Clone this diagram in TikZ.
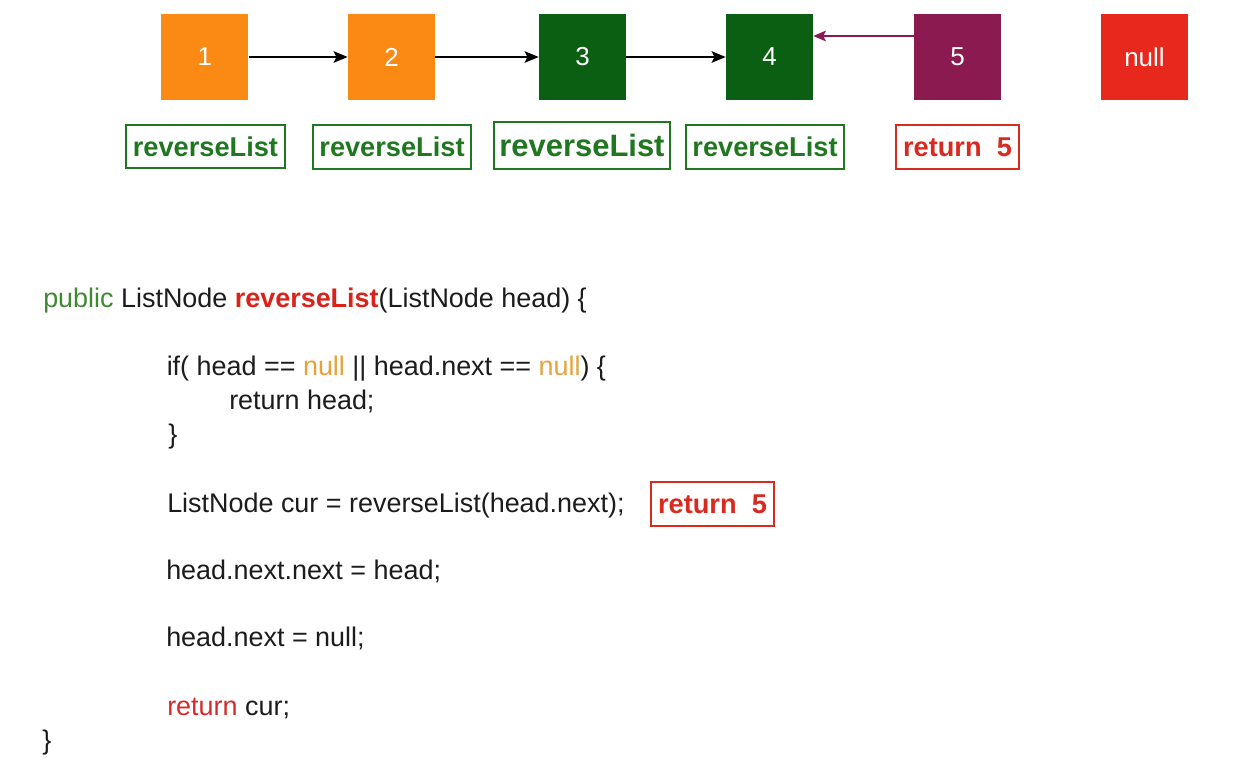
\documentclass[tikz,border=0pt]{standalone}
\usepackage{fontspec}
\setmainfont{Liberation Sans}
\usetikzlibrary{arrows.meta}

\definecolor{nodeorange}{HTML}{FA8A14}
\definecolor{nodegreen}{HTML}{0B5F12}
\definecolor{nodepurple}{HTML}{8B1A50}
\definecolor{nodered}{HTML}{E8281C}
\definecolor{callgreen}{HTML}{1F781F}
\definecolor{retred}{HTML}{D92A20}
\definecolor{codeblack}{HTML}{1C1C1C}
\definecolor{kwgreen}{HTML}{3E8A30}
\definecolor{fnred}{HTML}{D8231B}
\definecolor{nullorange}{HTML}{E8A23A}
\definecolor{kwred}{HTML}{D32B2B}

\begin{document}
\begin{tikzpicture}[x=0.75pt,y=-0.75pt,
  listnode/.style={minimum width=65.25pt, minimum height=64.5pt, inner sep=0pt,
    text=white, font=\fontsize{19.5}{22}\selectfont},
  callbox/.style={draw=callgreen, line width=1.5pt, text=callgreen, inner sep=0pt,
    minimum width=118.5pt, minimum height=33pt, font=\bfseries\fontsize{20.4}{24}\selectfont},
  retbox/.style={draw=retred, line width=1.2pt, text=retred, inner sep=0pt,
    minimum width=92.25pt, minimum height=33pt, font=\bfseries\fontsize{20.4}{24}\selectfont},
  code/.style={anchor=base west, inner sep=0pt, text=codeblack,
    font=\fontsize{20.2}{24}\selectfont},
  link/.style={-{Stealth[length=10.5pt,width=8.5pt,inset=2pt]}, line width=1.8pt, black},
  backlink/.style={-{Stealth[length=9.5pt,width=8pt,inset=2pt]}, line width=1.4pt, nodepurple}
]
% page
\fill[white] (0,0) rectangle (1233,772);

% linked list nodes
\node[listnode, fill=nodeorange] (n1) at (204.75,57) {1};
\node[listnode, fill=nodeorange] (n2) at (391.5,57) {2};
\node[listnode, fill=nodegreen]  (n3) at (582.5,57) {3};
\node[listnode, fill=nodegreen]  (n4) at (769.5,57) {4};
\node[listnode, fill=nodepurple] (n5) at (957.5,57) {5};
\node[listnode, fill=nodered]    (nnull) at (1144.5,57) {null};

% next pointers
\draw[link] (n1) -- (n2);
\draw[link] (n2) -- (n3);
\draw[link] (n3) -- (n4);
\draw[backlink] ([yshift=15.75pt]n5.west) -- ([yshift=15.75pt]n4.east);

% call stack labels
\node[callbox, minimum width=119.25pt, minimum height=32.25pt] (c1) at (205.5,146.5) {reverseList};
\node[callbox] (c2) at (392,147) {reverseList};
\node[callbox, minimum width=132pt, minimum height=35.25pt,
  font=\bfseries\fontsize{23.2}{27}\selectfont] (c3) at (582,145.5) {reverseList};
\node[callbox] (c4) at (765,147) {reverseList};
\node[retbox] (r5) at (957.5,147) {return\ \ 5};

% source code
\node[code] (l1) at (43,307) {\textcolor{kwgreen}{public} ListNode \textcolor{fnred}{\bfseries reverseList}(ListNode head) \{};
\node[code] (l2) at (166.5,375) {if( head == \textcolor{nullorange}{null} || head.next == \textcolor{nullorange}{null}) \{};
\node[code] (l3) at (229,409) {return head;};
\node[code] (l4) at (168,443) {\}};
\node[code] (l5) at (167,512) {ListNode cur = reverseList(head.next);};
\node[code] (l6) at (166,579) {head.next.next = head;};
\node[code] (l7) at (166,646) {head.next = null;};
\node[code] (l8) at (167,715) {\textcolor{kwred}{return} cur;};
\node[code] (l9) at (42,749) {\}};

\node[retbox] (r5b) at (712.5,504) {return\ \ 5};
\end{tikzpicture}
\end{document}
